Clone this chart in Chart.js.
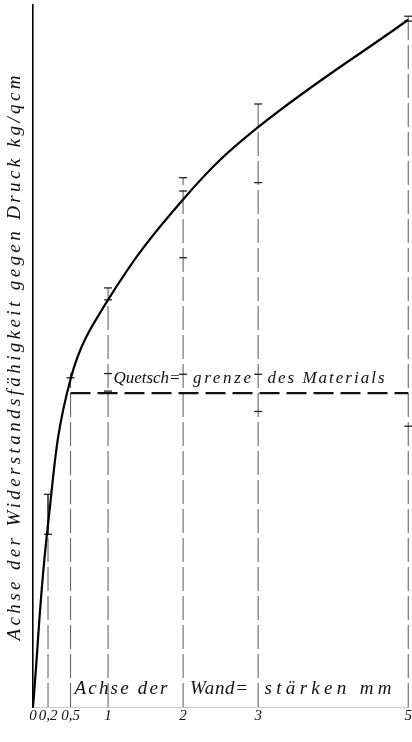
<!DOCTYPE html>
<html>
<head>
<meta charset="utf-8">
<script src="https://cdn.jsdelivr.net/npm/chart.js@4.4.0/dist/chart.umd.min.js"></script>
<style>
  html, body { margin: 0; padding: 0; background: #fff; }
  #wrap { width: 412px; height: 742px; }
</style>
</head>
<body>
<div id="wrap"><canvas id="wallChart"></canvas></div>
<script>
// Wandstärke (mm) and Widerstandsfähigkeit (the axis carries no numbers, 0..100 relative)
const thickness = [0, 0.2, 0.5, 1, 2, 3, 5];
const resistance = [0, 26, 46.7, 58.0, 72.3, 82.6, 97.9];
const tickLabels = ["0", "0,2", "0,5", "1", "2", "3", "5"];

// measuring lines: thickness and highest reading
const lineX = [0.2, 0.5, 1, 2, 3, 5];
const lineTop = [30.3, 47.6, 59.7, 75.4, 85.9, 98.4];

// single readings marked on the measuring lines
const readX = [0.2, 0.2, 0.5, 1, 1, 1, 1, 2, 2, 2, 2, 3, 3, 3, 3, 5, 5, 5];
const readY = [30.3, 24.6, 46.9, 59.7, 58.0, 47.5, 45.0, 75.4, 73.5, 64.0, 47.4, 85.9, 74.7, 47.4, 42.1, 98.4, 97.7, 40.0];

// Quetschgrenze des Materials
const limitX = [0.5, 5];
const limitY = [44.7, 44.7];

const yTitle = "Achse der Widerstandsfähigkeit gegen Druck kg/qcm";
// the written labels are split where the measuring lines cross them
const xTitleParts = ["Achse der", "Wand=", "stärken mm"];
const limitParts = ["Quetsch=", "grenze", "des Materials"];

const handFont = "'Liberation Serif', 'DejaVu Serif', serif";

let ctx = document.getElementById("wallChart").getContext("2d");

// vertical dashed lines, one per thickness, split by null points
const measureLines = [];
lineX.forEach((x, i) => {
  measureLines.push({ x: x, y: 0 }, { x: x, y: lineTop[i] }, { x: x, y: null });
});

// draws text stretched (by letter spacing) to a given width
const fitText = (c, text, cx, cy, width) => {
  c.letterSpacing = "0px";
  const w0 = c.measureText(text).width;
  const gap = Math.max(0, (width - w0) / (text.length - 1));
  c.letterSpacing = gap + "px";
  c.textAlign = "center";
  c.textBaseline = "middle";
  c.fillText(text, cx + gap / 2, cy);
  c.letterSpacing = "0px";
};

const handLabels = {
  id: "handLabels",
  afterDraw(chart) {
    const c = chart.ctx;
    const area = chart.chartArea;
    c.save();
    c.fillStyle = "#111";
    c.font = "italic 19px " + handFont;

    // y axis title, reading upwards
    c.save();
    c.translate(area.left - 18, 358);
    c.rotate(-Math.PI / 2);
    fitText(c, yTitle, 0, 0, 565);
    c.restore();

    // x axis title inside the plot, above the baseline
    const yx = area.bottom - 18;
    fitText(c, xTitleParts[0], 121, yx, 93);
    fitText(c, xTitleParts[1], 219, yx, 58);
    fitText(c, xTitleParts[2], 328, yx, 127);

    // label above the limit line
    c.font = "italic 17px " + handFont;
    const yl = chart.scales.y.getPixelForValue(limitY[0]) - 15;
    fitText(c, limitParts[0], 147, yl, 66);
    fitText(c, limitParts[1], 222, yl, 58);
    fitText(c, limitParts[2], 326, yl, 117);

    c.restore();
  },
};

var chart = new Chart(ctx, {
  type: "line",
  data: {
    datasets: [
      {
        label: "Messlinien",
        data: measureLines,
        borderColor: "#666",
        borderWidth: 1.1,
        borderDash: [24, 5],
        pointRadius: 0,
        spanGaps: false,
        order: 3,
      },
      {
        label: "Messstrecke 0,2",
        data: [{ x: 0.2, y: readY[1] }, { x: 0.2, y: readY[0] }],
        borderColor: "#222",
        borderWidth: 1.6,
        pointRadius: 0,
        order: 3,
      },
      {
        label: "Quetschgrenze",
        data: limitX.map((x, i) => ({ x: x, y: limitY[i] })),
        borderColor: "#111",
        borderWidth: 2.2,
        borderDash: [20, 7],
        pointRadius: 0,
        order: 2,
      },
      {
        label: "Ablesungen",
        type: "scatter",
        data: readX.map((x, i) => ({ x: x, y: readY[i] })),
        pointStyle: "line",
        pointRadius: 4,
        borderColor: "#222",
        borderWidth: 1.3,
        order: 1,
      },
      {
        label: "Widerstand",
        data: thickness.map((x, i) => ({ x: x, y: resistance[i] })),
        borderColor: "#000",
        borderWidth: 2.2,
        pointRadius: 0,
        tension: 0.4,
        order: 0,
      },
    ],
  },
  options: {
    responsive: true,
    maintainAspectRatio: false,
    animation: false,
    clip: false,
    // the last tick label runs to the page edge as in the original
    layout: { autoPadding: false, padding: { left: 33, right: 2, top: 5, bottom: 17 } },
    plugins: {
      legend: { display: false },
      tooltip: { enabled: false },
    },
    scales: {
      x: {
        type: "linear",
        min: 0,
        max: 5,
        grid: { display: false, drawTicks: false },
        border: { display: true, color: "#c8c8c8", width: 1 },
        afterBuildTicks: (axis) => {
          axis.ticks = thickness.map((v) => ({ value: v }));
        },
        ticks: {
          padding: 0,
          autoSkip: false,
          maxRotation: 0,
          color: "#111",
          font: { family: handFont, style: "italic", size: 15 },
          callback: (value) => tickLabels[thickness.indexOf(value)],
        },
      },
      y: {
        min: 0,
        max: 100,
        grid: { display: false, drawTicks: false },
        border: { display: true, color: "#000", width: 1.6 },
        ticks: { display: false },
      },
    },
  },
  plugins: [handLabels],
});
</script>
</body>
</html>
